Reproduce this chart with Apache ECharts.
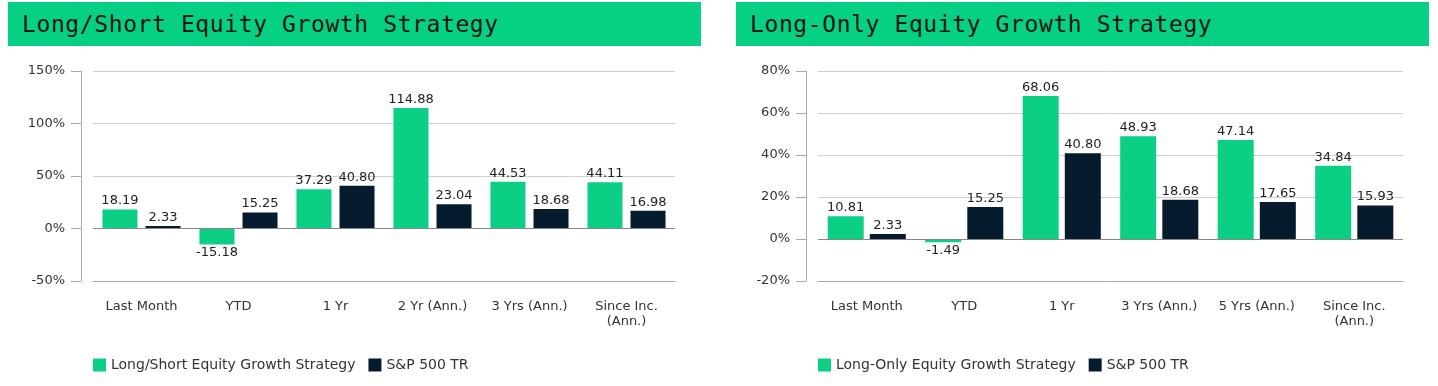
<!DOCTYPE html>
<html>
<head>
<meta charset="utf-8">
<script src="https://cdn.jsdelivr.net/npm/echarts@6/dist/echarts.min.js"></script>
<style>
  html, body { margin: 0; padding: 0; background: #fff; }
  #wrap { position: relative; width: 1438px; height: 386px; overflow: hidden; }
  #chart { position: absolute; left: 0; top: 0; width: 1438px; height: 386px; }
  .hdr { position: absolute; top: 2px; height: 44px; background: #06D083; color: #151515;
         font-family: "DejaVu Sans Mono", "Liberation Mono", monospace; font-size: 23px; letter-spacing: 0.6px;
         line-height: 44px; box-sizing: border-box; padding-left: 14px; white-space: nowrap; }
</style>
</head>
<body>
<div id="wrap">
  <div id="chart"></div>
  <div class="hdr" id="h1" style="left:8px; width:693px;"></div>
  <div class="hdr" id="h2" style="left:736px; width:693px;"></div>
</div>
<script>
// ---- data ----
const leftTitle = "Long/Short Equity Growth Strategy";
const rightTitle = "Long-Only Equity Growth Strategy";
const leftCategories = ["Last Month", "YTD", "1 Yr", "2 Yr (Ann.)", "3 Yrs (Ann.)", "Since Inc.\n(Ann.)"];
const leftStrategy = [18.19, -15.18, 37.29, 114.88, 44.53, 44.11];
const leftSP500 = [2.33, 15.25, 40.80, 23.04, 18.68, 16.98];
const rightCategories = ["Last Month", "YTD", "1 Yr", "3 Yrs (Ann.)", "5 Yrs (Ann.)", "Since Inc.\n(Ann.)"];
const rightStrategy = [10.81, -1.49, 68.06, 48.93, 47.14, 34.84];
const rightSP500 = [2.33, 15.25, 40.80, 18.68, 17.65, 15.93];
const benchmarkName = "S&P 500 TR";
const leftAxis = { min: -50, max: 150, interval: 50 };
const rightAxis = { min: -20, max: 80, interval: 20 };

document.getElementById('h1').textContent = leftTitle;
document.getElementById('h2').textContent = rightTitle;

const GREEN = '#0BCF84';
const NAVY = '#061B2E';
const FONT = '"DejaVu Sans", Verdana, sans-serif';
const TXT = '#333';

function toItems(arr) {
  return arr.map(v => v < 0 ? { value: v, label: { position: 'bottom' } } : { value: v });
}
function labelCfg() {
  return { show: true, position: 'top', distance: 2, color: '#222', fontFamily: FONT, fontSize: 13,
           formatter: p => p.value.toFixed(2) };
}
function zeroLine() {
  return { silent: true, symbol: 'none', label: { show: false },
           lineStyle: { color: '#888', type: 'solid', width: 1 }, data: [{ yAxis: 0 }] };
}
function xAxisCfg(idx, cats) {
  return {
    type: 'category', gridIndex: idx, data: cats,
    axisLine: { onZero: false, lineStyle: { color: '#aaa' } },
    axisTick: { alignWithLabel: true, length: 7, lineStyle: { color: '#aaa' } },
    axisLabel: { color: TXT, fontFamily: FONT, fontSize: 13, margin: 18, lineHeight: 15, interval: 0 }
  };
}
function yAxisCfg(idx, ax) {
  return {
    type: 'value', gridIndex: idx, min: ax.min, max: ax.max, interval: ax.interval, offset: 12,
    axisLine: { show: true, lineStyle: { color: '#aaa' } },
    axisTick: { show: true, length: 10, lineStyle: { color: '#aaa' } },
    axisLabel: { color: TXT, fontFamily: FONT, fontSize: 13, margin: 16, formatter: '{value}%' },
    splitLine: { lineStyle: { color: '#d0d0d0' } }
  };
}
function legendCfg(left, names) {
  return { left: left, top: 358, padding: 0, itemWidth: 13, itemHeight: 13, itemGap: 13, icon: 'rect',
           textStyle: { color: TXT, fontFamily: FONT, fontSize: 14 }, data: names };
}

const chart = echarts.init(document.getElementById('chart'), null, { renderer: 'canvas' });
chart.setOption({
  animation: false,
  grid: [
    { left: 93, right: 763, top: 71, bottom: 105 },
    { left: 818, right: 35, top: 71, bottom: 105 }
  ],
  legend: [
    legendCfg(93, [leftTitle, benchmarkName + ' ']),
    legendCfg(818, [rightTitle, benchmarkName])
  ],
  xAxis: [xAxisCfg(0, leftCategories), xAxisCfg(1, rightCategories)],
  yAxis: [yAxisCfg(0, leftAxis), yAxisCfg(1, rightAxis)],
  series: [
    { name: leftTitle, type: 'bar', xAxisIndex: 0, yAxisIndex: 0, data: toItems(leftStrategy),
      barWidth: 35, barGap: '23%', itemStyle: { color: GREEN }, label: labelCfg(), markLine: zeroLine() },
    { name: benchmarkName + ' ', type: 'bar', xAxisIndex: 0, yAxisIndex: 0, data: toItems(leftSP500),
      barWidth: 35, barGap: '23%', itemStyle: { color: NAVY }, label: labelCfg() },
    { name: rightTitle, type: 'bar', xAxisIndex: 1, yAxisIndex: 1, data: toItems(rightStrategy),
      barWidth: 36, barGap: '17%', itemStyle: { color: GREEN }, label: labelCfg(), markLine: zeroLine() },
    { name: benchmarkName, type: 'bar', xAxisIndex: 1, yAxisIndex: 1, data: toItems(rightSP500),
      barWidth: 36, barGap: '17%', itemStyle: { color: NAVY }, label: labelCfg() }
  ]
});
</script>
</body>
</html>
